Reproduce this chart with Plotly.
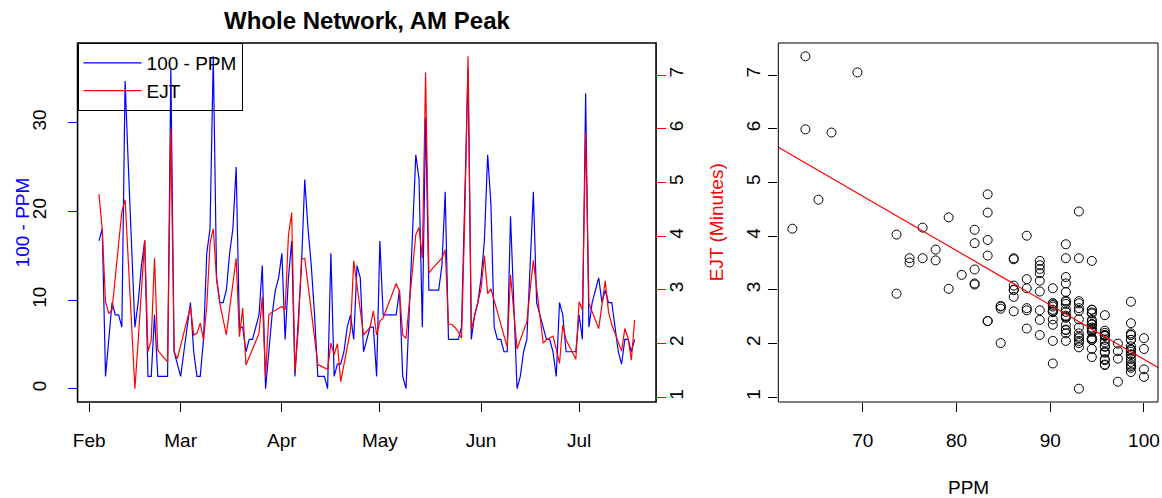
import numpy as np
import pandas as pd
import plotly.graph_objects as go

# ---- data -------------------------------------------------------------
start_date = "2010-02-04"

# daily "100 - PPM" (percentage points short of the PPM target)
gap_100_minus_ppm = [
    16.67, 18.06, 1.39, 5.56, 9.72, 8.33, 8.33, 6.94, 34.72, 25.00,
    16.67, 6.94, 9.72, 13.89, 16.67, 1.39, 1.39, 8.33, 1.39, 1.39,
    1.39, 1.39, 36.11, 4.17, 2.78, 1.39, 4.17, 6.94, 9.72, 4.17,
    1.39, 1.39, 5.56, 15.28, 18.06, 37.50, 12.50, 9.72, 9.72, 11.11,
    15.28, 18.06, 25.00, 6.94, 6.94, 4.17, 5.56, 5.56, 6.94, 8.33,
    13.89, 0.00, 4.17, 8.33, 11.11, 12.50, 15.28, 5.56, 12.50, 16.67,
    1.39, 8.33, 13.89, 23.61, 18.06, 13.89, 8.33, 1.39, 1.39, 1.39,
    0.00, 15.28, 1.39, 2.78, 2.78, 4.17, 6.94, 8.33, 5.56, 13.89,
    12.50, 4.17, 5.56, 6.94, 6.94, 1.39, 16.67, 8.33, 8.33, 8.33,
    8.33, 8.33, 11.11, 1.39, 0.00, 8.33, 18.06, 26.39, 23.61, 6.94,
    30.56, 11.11, 11.11, 11.11, 11.11, 13.89, 22.22, 5.56, 5.56, 5.56,
    5.56, 6.94, 20.83, 36.11, 5.56, 8.33, 9.72, 12.50, 16.67, 26.39,
    20.83, 6.94, 5.56, 5.56, 4.17, 4.17, 19.44, 9.72, 0.00, 1.39,
    4.17, 5.56, 13.89, 22.22, 9.72, 8.33, 6.94, 5.56, 5.56, 4.17,
    1.39, 9.72, 8.33, 4.17, 4.17, 4.17, 4.17, 8.33, 5.56, 33.33,
    6.94, 9.72, 11.11, 12.50, 9.72, 11.11, 9.72, 9.72, 6.94, 4.17,
    2.78, 5.56, 5.56, 4.17, 5.56,
]

# daily excess journey time, minutes
ejt_minutes = [
    4.78, 4.12, 2.78, 2.56, 2.63, 3.24, 3.85, 4.46, 4.68, 3.51,
    2.42, 1.16, 2.05, 3.00, 3.93, 1.85, 2.07, 3.59, 1.88, 1.80,
    1.72, 1.66, 5.99, 1.85, 1.72, 1.95, 2.20, 2.45, 2.69, 2.16,
    2.19, 2.38, 2.07, 2.70, 3.87, 4.14, 3.20, 2.75, 2.45, 2.16,
    2.65, 3.12, 3.59, 2.13, 2.66, 1.60, 1.75, 1.90, 2.05, 2.19,
    2.87, 1.38, 2.53, 2.59, 2.62, 2.66, 2.69, 2.63, 4.01, 4.44,
    1.47, 2.26, 3.57, 3.59, 3.10, 2.60, 2.05, 1.61, 1.58, 1.55,
    1.52, 2.01, 1.79, 2.00, 1.29, 1.61, 1.93, 2.25, 3.54, 3.08,
    2.62, 2.16, 2.23, 2.30, 2.61, 2.16, 2.42, 2.48, 2.64, 2.80,
    2.96, 3.12, 2.97, 2.16, 2.10, 2.74, 3.38, 4.03, 4.16, 3.59,
    7.05, 3.31, 3.39, 3.46, 3.54, 3.59, 3.75, 2.36, 2.36, 2.30,
    2.22, 2.10, 4.35, 7.35, 2.25, 2.50, 2.75, 3.03, 3.64, 2.93,
    3.02, 2.79, 2.58, 2.36, 2.15, 1.94, 3.28, 2.60, 1.90, 2.07,
    2.24, 2.41, 3.00, 3.55, 3.03, 2.52, 2.01, 2.07, 2.10, 2.14,
    1.90, 1.63, 2.35, 2.07, 1.95, 1.83, 1.71, 2.78, 2.63, 5.93,
    2.75, 2.59, 2.44, 2.28, 2.72, 3.17, 2.59, 2.35, 2.19, 2.02,
    1.86, 2.28, 2.10, 1.69, 2.44,
]

month_ticks = ["2010-02-01", "2010-03-01", "2010-04-01",
               "2010-05-01", "2010-06-01", "2010-07-01"]
month_labels = ["Feb", "Mar", "Apr", "May", "Jun", "Jul"]
gap_ticks = [0, 10, 20, 30]
ejt_ticks = [1, 2, 3, 4, 5, 6, 7]
ppm_ticks = [70, 80, 90, 100]

# ---- derived series ---------------------------------------------------
dates = pd.date_range(start_date, periods=len(gap_100_minus_ppm), freq="D")
gap = np.array(gap_100_minus_ppm)
ejt = np.array(ejt_minutes)
ppm = 100 - gap


def padded(lo, hi, frac=0.04):
    span = hi - lo
    return [lo - frac * span, hi + frac * span]


date_span = dates.max() - dates.min()
date_range = [dates.min() - 0.04 * date_span, dates.max() + 0.04 * date_span]
gap_range = padded(gap.min(), gap.max())
ejt_range = padded(ejt.min(), ejt.max())
ppm_range = padded(ppm.min(), ppm.max())

slope, intercept = np.polyfit(ppm, ejt, 1)
fit_x = np.array(ppm_range)
fit_y = intercept + slope * fit_x

# ---- page geometry (pixels -> paper fractions) ---------------------------
W, H = 1162, 498


def fx(p):
    return p / W


def fy(p):
    return 1 - p / H


LEFT = (73, 655)
RIGHT = (778, 1160)
TOP, BOTTOM = 43, 402

FONT = "Liberation Sans, Arial, Helvetica, sans-serif"
TICK_FONT = dict(family=FONT, size=19, color="black")

fig = go.Figure()

fig.add_trace(go.Scatter(
    x=dates, y=gap, mode="lines", name="100 - PPM",
    line=dict(color="blue", width=1.2), xaxis="x", yaxis="y"))
fig.add_trace(go.Scatter(
    x=dates, y=ejt, mode="lines", name="EJT",
    line=dict(color="red", width=1.2), xaxis="x", yaxis="y2"))
fig.add_trace(go.Scatter(
    x=ppm, y=ejt, mode="markers", showlegend=False,
    marker=dict(symbol="circle-open", size=9, color="black",
                line=dict(width=1, color="black")),
    xaxis="x2", yaxis="y3"))
fig.add_trace(go.Scatter(
    x=fit_x, y=fit_y, mode="lines", showlegend=False,
    line=dict(color="red", width=1.2), xaxis="x2", yaxis="y3"))

axis_common = dict(showgrid=False, zeroline=False, showline=False,
                   ticks="outside", ticklen=9, tickwidth=1,
                   tickfont=TICK_FONT)

fig.update_layout(
    width=W, height=H,
    margin=dict(l=0, r=0, t=0, b=0),
    paper_bgcolor="white", plot_bgcolor="white",
    font=dict(family=FONT, size=19, color="black"),
    xaxis=dict(domain=[fx(LEFT[0]), fx(LEFT[1])], anchor="y",
               type="date", range=date_range,
               tickmode="array", tickvals=month_ticks, ticktext=month_labels,
               tickcolor="black", ticklabelstandoff=12, **axis_common),
    yaxis=dict(domain=[fy(BOTTOM), fy(TOP)], anchor="x",
               range=gap_range, tickmode="array", tickvals=gap_ticks,
               tickcolor="blue", tickangle=-90, ticklabelstandoff=14,
               **axis_common),
    yaxis2=dict(overlaying="y", side="right", anchor="x",
                range=ejt_range, tickmode="array", tickvals=ejt_ticks,
                tickcolor="red", tickangle=-90, ticklabelstandoff=-6,
                **axis_common),
    xaxis2=dict(domain=[fx(RIGHT[0]), fx(RIGHT[1])], anchor="y3",
                range=ppm_range, tickmode="array", tickvals=ppm_ticks,
                tickcolor="black", ticklabelstandoff=12, **axis_common),
    yaxis3=dict(domain=[fy(BOTTOM), fy(TOP)], anchor="x2",
                range=ejt_range, tickmode="array", tickvals=ejt_ticks,
                tickcolor="black", tickangle=-90, ticklabelstandoff=1,
                **axis_common),
    legend=dict(x=fx(LEFT[0]), y=fy(TOP), xanchor="left", yanchor="top",
                bgcolor="rgba(0,0,0,0)", bordercolor="black", borderwidth=1,
                itemwidth=58,
                font=dict(family=FONT, size=19, color="black")),
    shapes=[
        dict(type="rect", xref="paper", yref="paper",
             x0=fx(LEFT[0]), x1=fx(LEFT[1]), y0=fy(BOTTOM), y1=fy(TOP),
             line=dict(color="black", width=1.6)),
        dict(type="rect", xref="paper", yref="paper",
             x0=fx(RIGHT[0]), x1=fx(RIGHT[1]), y0=fy(BOTTOM), y1=fy(TOP),
             line=dict(color="black", width=1)),
    ],
    annotations=[
        dict(text="<b>Whole Network, AM Peak</b>", xref="paper", yref="paper",
             x=fx(364), y=fy(20), xanchor="center", yanchor="middle",
             showarrow=False,
             font=dict(family=FONT, size=24, color="black")),
        dict(text="100 - PPM", xref="paper", yref="paper",
             x=fx(18), y=fy((TOP + BOTTOM) / 2), textangle=-90,
             xanchor="center", yanchor="middle",
             showarrow=False, font=dict(family=FONT, size=19, color="blue")),
        dict(text="EJT (Minutes)", xref="paper", yref="paper",
             x=fx(716), y=fy((TOP + BOTTOM) / 2), textangle=-90,
             xanchor="center", yanchor="middle",
             showarrow=False, font=dict(family=FONT, size=19, color="red")),
        dict(text="PPM", xref="paper", yref="paper",
             x=fx(969), y=fy(487), xanchor="center", yanchor="middle",
             showarrow=False,
             font=dict(family=FONT, size=19, color="black")),
    ],
)

fig.write_html("out.html")
